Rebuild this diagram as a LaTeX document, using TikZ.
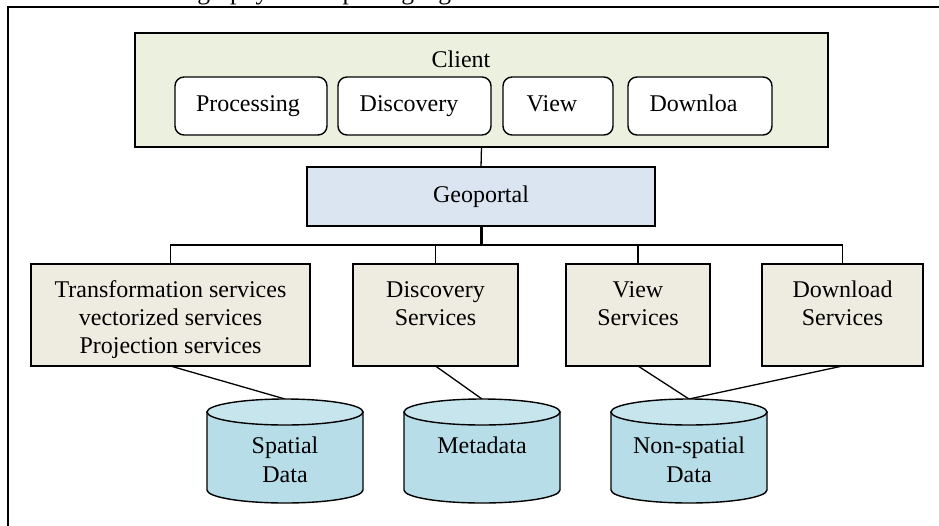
\documentclass[tikz,border=0pt]{standalone}
\usepackage{fontspec}
\setmainfont{Liberation Serif}
\usetikzlibrary{calc}
\definecolor{clientfill}{HTML}{EBF1DE}
\definecolor{portalfill}{HTML}{DBE5F1}
\definecolor{svcfill}{HTML}{EEECE1}
\definecolor{dbfill}{HTML}{B7DDE8}
\definecolor{dbtop}{HTML}{C6E5ED}
\tikzset{
  every node/.style={inner sep=0pt, outer sep=0pt},
  lbl/.style={font=\fontsize{24}{28.5}\selectfont, anchor=base},
  box/.style={draw=black, line width=1.4pt, rectangle},
  tab/.style={draw=black, line width=1.4pt, rounded corners=9pt, fill=white, minimum height=58},
  svc/.style={box, fill=svcfill, minimum height=102},
  wire/.style={line width=1.3pt},
  bigwire/.style={line width=3pt},
  dbbody/.style={draw=black, line width=1.4pt, fill=dbfill},
  dbcap/.style={draw=black, line width=1.4pt, fill=dbtop},
  dbnode/.style={minimum width=156, minimum height=104},
}
\newcommand\dbcyl[1]{%
  \draw[dbbody] ($(#1.north west)+(0,13)$) -- ($(#1.south west)+(0,-13)$)
     arc[start angle=180, end angle=0, x radius=78, y radius=13]
     -- ($(#1.north east)+(0,13)$) -- cycle;
  \draw[dbcap] ($(#1.north)+(0,13)$) ellipse[x radius=78, y radius=13];
}
\begin{document}
\begin{tikzpicture}[x=1pt,y=-1pt]
\useasboundingbox (0,0) rectangle (939,525);
\clip (0,0) rectangle (939,525);
% frame
\draw[line width=1.4pt] (8,540) -- (8,7) -- (960,7);
% caption (cut off at the top edge, as in the reference)
\node[font=\fontsize{25.5}{30}\selectfont, anchor=base west] (cap) at (155,-1) {Geography Markup Language};

% client
\node[box, fill=clientfill, minimum width=693, minimum height=114] (client) at (481.5,90) {};
\node[lbl] (clientlbl) at (461,67) {Client};
\node[tab, minimum width=152] (tproc) at (251,106) {};
\node[tab, minimum width=153] (tdisc) at (414.5,106) {};
\node[tab, minimum width=110] (tview) at (558,106) {};
\node[tab, minimum width=144] (tdown) at (700,106) {};
\node[lbl] (lproc) at (248,111.5) {Processing};
\node[lbl] (ldisc) at (409,111.5) {Discovery};
\node[lbl] (lview) at (552,111.5) {View};
\node[lbl] (ldown) at (693.5,111.5) {Downloa};

% geoportal
\node[box, fill=portalfill, minimum width=348, minimum height=59] (portal) at (481,196.5) {};
\node[lbl] (lportal) at (481,202) {Geoportal};

% services
\node[svc, minimum width=279] (trans) at (170.5,315) {};
\node[svc, minimum width=165] (disc) at (435.5,315) {};
\node[svc, minimum width=144] (view) at (638,315) {};
\node[svc, minimum width=161] (down) at (842.5,315) {};
\node[lbl] (ltrans1) at (170.5,297) {Transformation services};
\node[lbl] (ltrans2) at (170.5,325) {vectorized services};
\node[lbl] (ltrans3) at (170.5,353.5) {Projection services};
\node[lbl] (ldisc1) at (435.5,297) {Discovery};
\node[lbl] (ldisc2) at (435.5,325) {Services};
\node[lbl] (lview1) at (638,297) {View};
\node[lbl] (lview2) at (638,325) {Services};
\node[lbl] (ldown1) at (842.5,297) {Download};
\node[lbl] (ldown2) at (842.5,325) {Services};

% connectors
\coordinate (busy) at (0,245);
\draw[wire] (client.south) -- (portal.north);
\draw[bigwire] (portal.south) -- (portal.south |- busy);
\draw[wire] (trans.north) -- (trans.north |- busy) -- (down.north |- busy) -- (down.north);
\draw[wire] (disc.north) -- (disc.north |- busy);
\draw[wire] (view.north) -- (view.north |- busy);

% databases
\node[dbnode] (spatial) at (285,451) {};
\node[dbnode] (meta) at (482,451) {};
\node[dbnode] (nonsp) at (689,451) {};
\draw[wire] (trans.south) -- (spatial.north);
\draw[wire] (disc.south) -- (meta.north);
\draw[wire] (view.south) -- (nonsp.north);
\draw[wire] (down.south) -- (nonsp.north);
\dbcyl{spatial}
\dbcyl{meta}
\dbcyl{nonsp}
\node[lbl] (lsp1) at (285,453) {Spatial};
\node[lbl] (lsp2) at (285,482) {Data};
\node[lbl] (lmeta) at (482,453) {Metadata};
\node[lbl] (lns1) at (689,453) {Non-spatial};
\node[lbl] (lns2) at (689,482) {Data};
\end{tikzpicture}
\end{document}
